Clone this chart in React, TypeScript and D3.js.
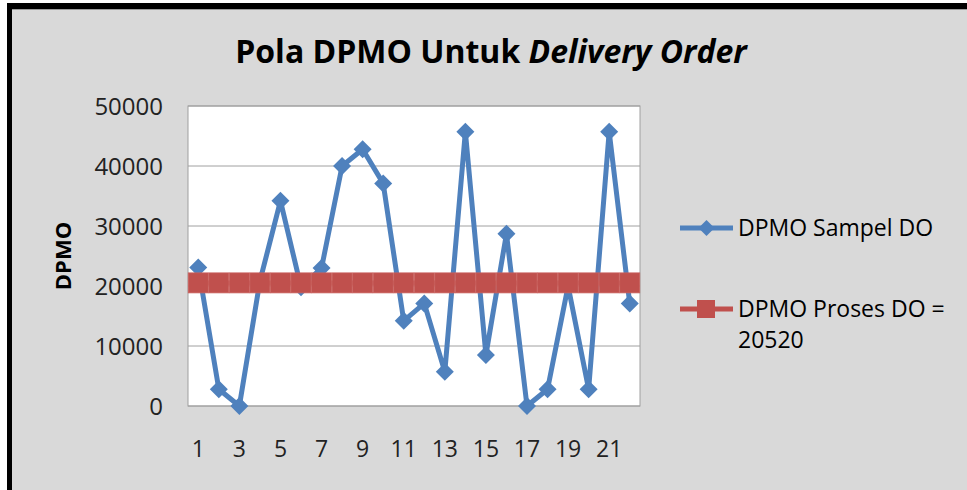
import React from "react";
import * as d3 from "d3";

const categories: number[] = Array.from({ length: 22 }, (_, i) => i + 1);
const sampleValues: number[] = [
  23100, 2800, 0, 20800, 34200, 19800, 23000, 40000, 42800, 37100, 14200,
  17100, 5700, 45700, 8500, 28700, 0, 2800, 20000, 2800, 45700, 17100,
];
const processValue = 20520;
const processValues: number[] = categories.map(() => processValue);
const yTicks: number[] = [0, 10000, 20000, 30000, 40000, 50000];
const xTickLabels: number[] = [1, 3, 5, 7, 9, 11, 13, 15, 17, 19, 21];
const seriesNames: string[] = ["DPMO Sampel DO", "DPMO Proses DO ="];
const seriesNameLine2 = "20520";

const W = 967;
const H = 490;
const plot = { left: 188, right: 640, top: 106, bottom: 406 };
const BLUE = "#4f81bd";
const RED = "#c0504d";
const FONT = "'Open Sans', 'Noto Sans', sans-serif";

export default function App() {
  const x = d3
    .scaleBand<number>()
    .domain(categories)
    .range([plot.left, plot.right])
    .paddingInner(0)
    .paddingOuter(0);
  const xc = (c: number) => (x(c) as number) + x.bandwidth() / 2;
  const y = d3.scaleLinear().domain([0, 50000]).range([plot.bottom, plot.top]);

  const line = d3
    .line<number>()
    .x((_, i) => xc(categories[i]))
    .y((d) => y(d));

  const diamond = (cx: number, cy: number, r: number) =>
    `M${cx},${cy - r}L${cx + r},${cy}L${cx},${cy + r}L${cx - r},${cy}Z`;

  return (
    <svg
      width={W}
      height={H}
      style={{ position: "absolute", left: 0, top: 0 }}
      fontFamily={FONT}
    >
      <rect x={0} y={0} width={W} height={H} fill="#ffffff" />
      <rect x={7} y={3} width={W - 7} height={H - 3} fill="#000000" />
      <rect x={12} y={9} width={W - 12} height={H - 9} fill="#d9d9d9" />
      <line x1={12} x2={W} y1={9.5} y2={9.5} stroke="#9a9a9a" strokeWidth={1} />

      {/* Title */}
      <text
        x={491}
        y={63}
        textAnchor="middle"
        fontSize={32}
        fontWeight="bold"
        fill="#000"
      >
        Pola DPMO Untuk <tspan fontStyle="italic">Delivery Order</tspan>
      </text>

      {/* Plot area */}
      <rect
        x={plot.left}
        y={plot.top}
        width={plot.right - plot.left}
        height={plot.bottom - plot.top}
        fill="#ffffff"
        stroke="#a0a0a0"
        strokeWidth={1}
      />
      {yTicks.map((t) => (
        <line
          key={t}
          x1={plot.left}
          x2={plot.right}
          y1={y(t)}
          y2={y(t)}
          stroke="#a0a0a0"
          strokeWidth={1}
        />
      ))}

      {/* Y tick labels */}
      {yTicks.map((t) => (
        <text
          key={t}
          x={163}
          y={y(t)}
          dy="0.36em"
          textAnchor="end"
          fontSize={24}
          fill="#222"
        >
          {t}
        </text>
      ))}

      {/* X tick labels */}
      {xTickLabels.map((c) => (
        <text
          key={c}
          x={xc(c)}
          y={457}
          textAnchor="middle"
          fontSize={23}
          fill="#222"
        >
          {c}
        </text>
      ))}

      {/* Y axis title */}
      <text
        transform={`translate(71,256) rotate(-90)`}
        textAnchor="middle"
        fontSize={22}
        fontWeight="bold"
        fill="#000"
      >
        DPMO
      </text>

      {/* Sample series */}
      <path
        d={line(sampleValues) || ""}
        fill="none"
        stroke={BLUE}
        strokeWidth={5}
        strokeLinejoin="round"
      />
      {sampleValues.map((v, i) => (
        <path key={i} d={diamond(xc(categories[i]), y(v), 9)} fill={BLUE} />
      ))}

      {/* Process series */}
      <path
        d={line(processValues) || ""}
        fill="none"
        stroke={RED}
        strokeWidth={5}
      />
      {processValues.map((v, i) => (
        <rect
          key={i}
          x={xc(categories[i]) - 10}
          y={y(v) - 10}
          width={20}
          height={20}
          fill={RED}
          stroke="#c9605d"
          strokeWidth={0.8}
        />
      ))}

      {/* Legend */}
      <line x1={680} x2={733} y1={228} y2={228} stroke={BLUE} strokeWidth={5} />
      <path d={diamond(706.5, 228, 8)} fill={BLUE} />
      <text x={738} y={236} fontSize={23} fill="#000">
        {seriesNames[0]}
      </text>

      <line x1={680} x2={733} y1={309} y2={309} stroke={RED} strokeWidth={5} />
      <rect x={697} y={300} width={18} height={18} fill={RED} />
      <text x={738} y={317} fontSize={23} fill="#000">
        {seriesNames[1]}
      </text>
      <text x={738} y={348} fontSize={23} fill="#000">
        {seriesNameLine2}
      </text>
    </svg>
  );
}
